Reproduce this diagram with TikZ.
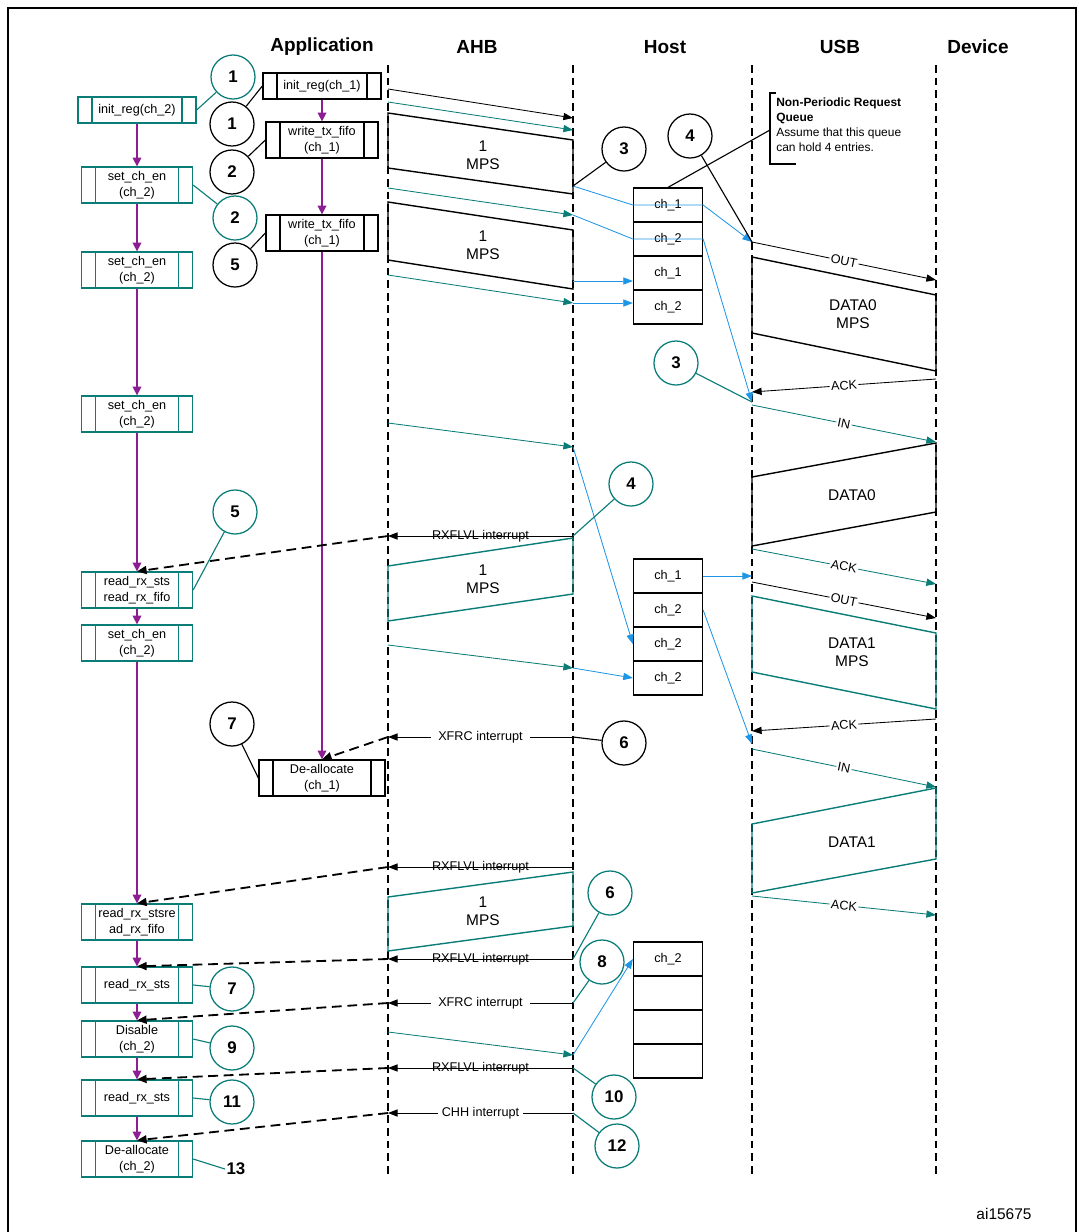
\documentclass[tikz,border=0pt]{standalone}
\usepackage{fontspec}
\setmainfont{Liberation Sans}
\usetikzlibrary{arrows.meta}
\definecolor{appteal}{RGB}{10,125,120}
\definecolor{qblue}{RGB}{30,150,230}
\definecolor{flowviolet}{RGB}{140,30,145}
\begin{document}
\begin{tikzpicture}[x=0.025cm, y=-0.025cm,
    proc/.style={draw=#1, line width=0.9pt, minimum width=2.775cm, minimum height=0.9cm, inner sep=1pt, align=center, font=\fontsize{9}{11}\selectfont,
      path picture={\draw[#1, line width=0.9pt] ([xshift=0.35cm]path picture bounding box.north west) -- ([xshift=0.35cm]path picture bounding box.south west);
        \draw[#1, line width=0.9pt] ([xshift=-0.35cm]path picture bounding box.north east) -- ([xshift=-0.35cm]path picture bounding box.south east);}},
    num/.style={circle, draw=#1, line width=0.9pt, minimum size=1.1cm, inner sep=0pt, font=\bfseries\fontsize{12}{14}\selectfont},
    qrow/.style={draw, line width=0.9pt, minimum width=1.725cm, minimum height=0.85cm, inner sep=0pt, font=\fontsize{9}{11}\selectfont},
    head/.style={font=\bfseries\fontsize{13.5}{16}\selectfont},
    lifeline/.style={line width=1.4pt, dash pattern=on 5.5pt off 3.5pt},
    msg/.style={line width=0.6pt, -{Triangle[length=2.4mm,width=1.8mm]}},
    irq/.style={line width=1.3pt, dash pattern=on 7pt off 4pt, -{Triangle[length=2.4mm,width=2mm]}},
    flow/.style={flowviolet, line width=0.9pt, -{Triangle[length=2.2mm,width=2.2mm]}},
    pkt/.style={line width=1pt},
    lbl/.style={font=\fontsize{9}{11}\selectfont, inner sep=1pt, text=black},
    pay/.style={align=center, font=\fontsize{11}{13}\selectfont},
    link/.style={line width=0.8pt}]
  \useasboundingbox (0,0) rectangle (1079,1232);
  \coordinate (f1) at (8,1232); \coordinate (f2) at (8,8);
  \coordinate (f3) at (1076,8); \coordinate (f4) at (1076,1232);
  \draw[line width=1.2pt] (f1) -- (f2) -- (f3) -- (f4);

  \node[head] (happ) at (322,47) {Application};
  \node[head] (hahb) at (477,47) {AHB};
  \node[head] (hhost) at (665,47) {Host};
  \node[head] (husb) at (840,47) {USB};
  \node[head] (hdev) at (978,47) {Device};

  \foreach \n/\x in {ahb/388, host/573, usb/752, dev/936} {
    \coordinate (\n0) at (\x,65);
    \coordinate (\n1) at (\x,1177);
    \draw[lifeline] (\n0) -- (\n1);
  }
  \foreach \y in {89,102,113,168,188,202,260,275,423,536,566,621,645,737,867,897,951,959,1003,1032,1068,1113}
    \coordinate (a\y) at (388,\y);
  \foreach \y in {118,130,140,186,194,215,230,281,289,303,447,536,538,594,668,737,867,872,926,959,1003,1055,1068,1113}
    \coordinate (h\y) at (573,\y);
  \foreach \y in {242,257,333,392,402,405,477,546,549,582,596,672,731,744,749,824,893,896}
    \coordinate (u\y) at (752,\y);
  \foreach \y in {280,295,371,379,442,443,512,584,618,633,709,719,787,788,859,915}
    \coordinate (d\y) at (936,\y);

  \node[proc=appteal, minimum width=2.95cm, minimum height=0.65cm] (ini2) at (137,110) {init\_reg(ch\_2)};
  \node[proc=appteal] (en1) at (137,185) {set\_ch\_en\\(ch\_2)};
  \node[proc=appteal] (en2) at (137,270) {set\_ch\_en\\(ch\_2)};
  \node[proc=appteal] (en3) at (137,414) {set\_ch\_en\\(ch\_2)};
  \node[proc=appteal] (rd1) at (137,590) {read\_rx\_sts\\read\_rx\_fifo};
  \node[proc=appteal] (en4) at (137,643) {set\_ch\_en\\(ch\_2)};
  \node[proc=appteal] (rd2) at (137,922) {read\_rx\_stsre\\ad\_rx\_fifo};
  \node[proc=appteal] (rd3) at (137,985) {read\_rx\_sts};
  \node[proc=appteal] (dis) at (137,1039) {Disable\\(ch\_2)};
  \node[proc=appteal] (rd4) at (137,1098) {read\_rx\_sts};
  \node[proc=appteal] (dea2) at (137,1159) {De-allocate\\(ch\_2)};

  \node[proc=black, minimum width=2.95cm, minimum height=0.65cm] (ini1) at (322,86) {init\_reg(ch\_1)};
  \node[proc=black, minimum width=2.8cm] (wr1) at (322,140) {write\_tx\_fifo\\(ch\_1)};
  \node[proc=black, minimum width=2.8cm] (wr2) at (322,233) {write\_tx\_fifo\\(ch\_1)};
  \node[proc=black, minimum width=3.15cm] (dea1) at (322,778) {De-allocate\\(ch\_1)};

  \foreach \s/\t in {ini2/en1, en1/en2, en2/en3, en3/rd1, rd1/en4, en4/rd2, rd2/rd3, rd3/dis, dis/rd4, rd4/dea2, ini1/wr1, wr1/wr2, wr2/dea1}
    \draw[flow] (\s) -- (\t);

  \node[qrow] (q11) at (668,205) {ch\_1};
  \node[qrow] (q12) at (668,239) {ch\_2};
  \node[qrow] (q13) at (668,273) {ch\_1};
  \node[qrow] (q14) at (668,307) {ch\_2};
  \node[qrow] (q21) at (668,576) {ch\_1};
  \node[qrow] (q22) at (668,610) {ch\_2};
  \node[qrow] (q23) at (668,644) {ch\_2};
  \node[qrow] (q24) at (668,678) {ch\_2};
  \node[qrow] (q31) at (668,959) {ch\_2};
  \node[qrow] (q32) at (668,993) {};
  \node[qrow] (q33) at (668,1027) {};
  \node[qrow] (q34) at (668,1061) {};

  \node[anchor=north west, inner sep=0pt, align=left, font=\fontsize{8.5}{10.6}\selectfont] (note) at (776,98)
    {\textbf{Non-Periodic Request}\\\textbf{Queue}\\Assume that this queue\\can hold 4 entries.};
  \coordinate (nb0) at (776,93); \coordinate (nb1) at (770,93);
  \coordinate (nb2) at (770,164); \coordinate (nb3) at (796,164);
  \coordinate (nb) at (770,130);
  \draw[link] (nb0) -- (nb1) -- (nb2) -- (nb3);
  \draw[link] (q11.north) -- (nb);

  \draw[pkt] (a113) -- (h140) -- (h194) -- (a168) -- cycle;
  \node[pay] (p1) at (483,155) {1\\MPS};
  \draw[pkt] (a202) -- (h230) -- (h289) -- (a260) -- cycle;
  \node[pay] (p2) at (483,245) {1\\MPS};
  \draw[pkt, appteal] (h538) -- (a566) -- (a621) -- (h594) -- cycle;
  \node[pay] (p3) at (483,579) {1\\MPS};
  \draw[pkt, appteal] (h872) -- (a897) -- (a951) -- (h926) -- cycle;
  \node[pay] (p4) at (483,911) {1\\MPS};
  \draw[pkt] (u257) -- (d295) -- (d371) -- (u333) -- cycle;
  \node[pay] (p5) at (853,314) {DATA0\\MPS};
  \draw[pkt] (d443) -- (u477) -- (u546) -- (d512) -- cycle;
  \node[pay] (p6) at (852,495) {DATA0};
  \draw[pkt, appteal] (u596) -- (d633) -- (d709) -- (u672) -- cycle;
  \node[pay] (p7) at (852,652) {DATA1\\MPS};
  \draw[pkt, appteal] (d788) -- (u824) -- (u893) -- (d859) -- cycle;
  \node[pay] (p8) at (852,842) {DATA1};

  \draw[msg] (a89) -- (h118);
  \draw[msg, appteal] (a102) -- (h130);
  \draw[msg, appteal] (a188) -- (h215);
  \draw[msg, appteal] (a275) -- (h303);
  \draw[msg, appteal] (a423) -- (h447);
  \draw[msg, appteal] (a645) -- (h668);
  \draw[msg, appteal] (a1032) -- (h1055);

  \draw[msg, qblue] (h186) -- (q11.west) -- (q11.east) -- (u242);
  \draw[msg, qblue] (h215) -- (q12.west) -- (q12.east) -- (u402);
  \draw[msg, qblue] (h281) -- (h281 -| q13.west);
  \draw[msg, qblue] (h303) -- (h303 -| q14.west);
  \draw[msg, qblue] (h447) -- (q23.west);
  \draw[msg, qblue] (h668) -- (q24.west);
  \draw[msg, qblue] (q21.east) -- (q21.east -| usb0);
  \draw[msg, qblue] (q22.east) -- (u744);
  \draw[msg, qblue] (h1055) -- (q31.west);

  \draw[msg] (u242) -- node[lbl, sloped, fill=white] (m1) {OUT} (d280);
  \draw[msg] (d379) -- node[lbl, sloped, fill=white] (m2) {ACK} (u392);
  \draw[msg, appteal] (u405) -- node[lbl, sloped, fill=white] (m3) {IN} (d442);
  \draw[msg, appteal] (u549) -- node[lbl, sloped, fill=white] (m4) {ACK} (d584);
  \draw[msg] (u582) -- node[lbl, sloped, fill=white] (m5) {OUT} (d618);
  \draw[msg] (d719) -- node[lbl, sloped, fill=white] (m6) {ACK} (u731);
  \draw[msg, appteal] (u749) -- node[lbl, sloped, fill=white] (m7) {IN} (d787);
  \draw[msg, appteal] (u896) -- node[lbl, sloped, fill=white] (m8) {ACK} (d915);

  \draw[msg] (h536) -- node[lbl] (i1) {RXFLVL interrupt} (a536);
  \draw[msg] (h737) -- node[lbl, fill=white, inner xsep=5pt] (i2) {XFRC interrupt} (a737);
  \draw[msg] (h867) -- node[lbl] (i3) {RXFLVL interrupt} (a867);
  \draw[msg] (h959) -- node[lbl] (i4) {RXFLVL interrupt} (a959);
  \draw[msg] (h1003) -- node[lbl, fill=white, inner xsep=5pt] (i5) {XFRC interrupt} (a1003);
  \draw[msg] (h1068) -- node[lbl] (i6) {RXFLVL interrupt} (a1068);
  \draw[msg] (h1113) -- node[lbl, fill=white, inner xsep=3pt] (i7) {CHH interrupt} (a1113);

  \draw[irq] (a536) -- (rd1.north);
  \draw[irq] (a737) -- (dea1.north);
  \draw[irq] (a867) -- (rd2.north);
  \draw[irq] (a959) -- (rd3.north);
  \draw[irq] (a1003) -- (dis.north);
  \draw[irq] (a1068) -- (rd4.north);
  \draw[irq] (a1113) -- (dea2.north);

  \node[num=appteal] (g1) at (233,77) {1};
  \node[num=appteal] (g2) at (235,218) {2};
  \node[num=appteal] (g5) at (235,512) {5};
  \node[num=appteal] (g7) at (232,989) {7};
  \node[num=appteal] (g9) at (232,1048) {9};
  \node[num=appteal] (g11) at (232,1102) {11};
  \node[font=\bfseries\fontsize{12}{14}\selectfont, inner sep=1pt] (n13) at (236,1169) {13};
  \node[num=appteal] (g3) at (676,363) {3};
  \node[num=appteal] (g4) at (631,484) {4};
  \node[num=appteal] (g6) at (610,893) {6};
  \node[num=appteal] (g8) at (602,962) {8};
  \node[num=appteal] (g10) at (614,1097) {10};
  \node[num=appteal] (g12) at (617,1146) {12};
  \node[num=black] (k1) at (232,124) {1};
  \node[num=black] (k2) at (232,172) {2};
  \node[num=black] (k5) at (235,265) {5};
  \node[num=black] (k7) at (232,724) {7};
  \node[num=black] (k3) at (624,149) {3};
  \node[num=black] (k4) at (690,136) {4};
  \node[num=black] (k6) at (624,743) {6};

  \draw[link, appteal] (g1) -- (ini2.east);
  \draw[link, appteal] (g2) -- (en1.east);
  \draw[link, appteal] (g5) -- (rd1.east);
  \draw[link, appteal] (g7) -- (rd3.east);
  \draw[link, appteal] (g9) -- (dis.east);
  \draw[link, appteal] (g11) -- (rd4.east);
  \draw[link, appteal] (dea2.east) -- (n13.west);
  \draw[link, appteal] (g3) -- (u402);
  \draw[link, appteal] (g4) -- (h536);
  \draw[link, appteal] (g6) -- (h959);
  \draw[link, appteal] (g8) -- (h1003);
  \draw[link, appteal] (g10) -- (h1068);
  \draw[link, appteal] (g12) -- (h1113);
  \draw[link] (k1) -- (ini1.west);
  \draw[link] (k2) -- (wr1.west);
  \draw[link] (k5) -- (wr2.west);
  \draw[link] (k7) -- (dea1.west);
  \draw[link] (k3) -- (h186);
  \draw[link] (k4) -- (u242);
  \draw[link] (k6) -- (h737);

  \node[font=\fontsize{11}{13}\selectfont] (fig) at (1004,1214) {ai15675};
\end{tikzpicture}
\end{document}
